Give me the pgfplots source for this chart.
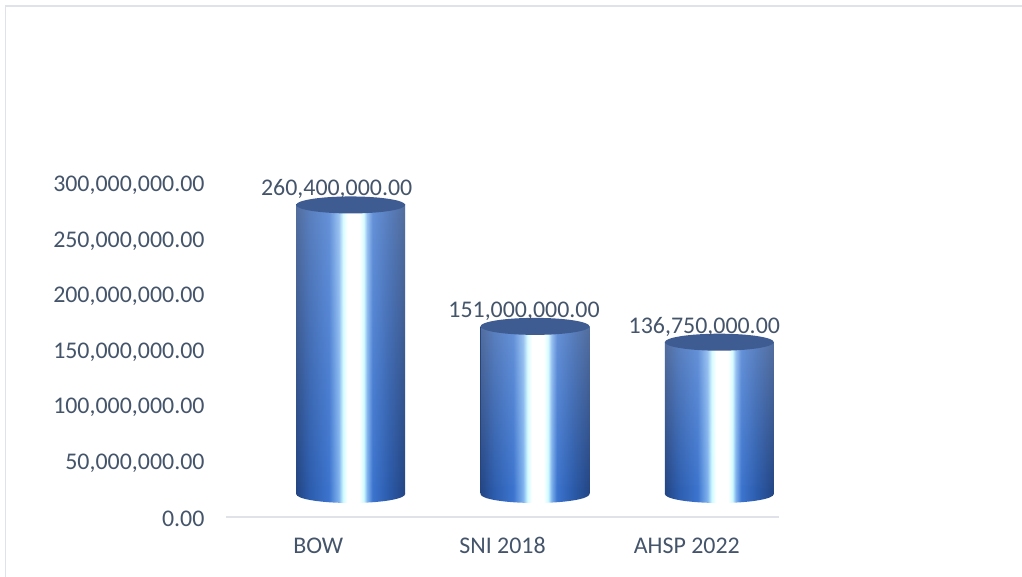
\documentclass[border=0pt]{standalone}
\usepackage{pgfplots}
\pgfplotsset{compat=1.18}
\usepackage{fontspec}
\setmainfont{Carlito}
\usetikzlibrary{fadings}
\definecolor{txt}{HTML}{44546A}
\definecolor{axln}{HTML}{DFE2E8}
\definecolor{captop}{HTML}{3F5C92}
\definecolor{c0}{HTML}{234583}
\definecolor{c1}{HTML}{2C5CAC}
\definecolor{c2}{HTML}{3C74CE}
\definecolor{cm}{HTML}{7FB2EE}
\definecolor{c3}{HTML}{CFFBFF}
\definecolor{c4}{HTML}{FFFFFF}
\pgfdeclarehorizontalshading{cyl}{100bp}{
 color(0bp)=(c0); color(25bp)=(c0); color(31bp)=(c1); color(40bp)=(c2); color(44.5bp)=(cm); color(46.5bp)=(c3);
 color(48.5bp)=(c4); color(54bp)=(c4); color(56bp)=(c3); color(57.5bp)=(cm); color(60bp)=(c2); color(67bp)=(c1); color(75bp)=(c0); color(100bp)=(c0)}
\tikzfading[name=topfade, top color=transparent!78, bottom color=transparent!100]
\pgfdeclareplotmark{topell}{\fill[captop,draw=none] (0pt,0pt) ellipse (54.5pt and 8.5pt);}
\pgfdeclareplotmark{botell}{\shade[shading=cyl,draw=none] (0pt,0pt) ellipse (54.5pt and 9pt);}
\pgfplotsset{
  body/.style={ybar,bar width=109pt,bar shift=0pt,draw=none,shading=cyl,xshift=32.5pt,yshift=23pt},
  glow/.style={ybar,bar width=109pt,bar shift=0pt,draw=none,fill=white,path fading=topfade,xshift=32.5pt,yshift=23pt},
  lab/.style={only marks,mark=topell,xshift=32.5pt,yshift=23pt,
    point meta=explicit symbolic,nodes near coords,
    every node near coord/.style={anchor=center,text=txt,font=\fontsize{23.9pt}{25pt}\selectfont,xshift=#1,yshift=15.5pt}},
}
\begin{document}
\begin{tikzpicture}[x=1pt,y=1pt]
\path[use as bounding box] (0,0) rectangle (1022,577);
\draw[axln,line width=1.8pt] (1022,571) -- (5.5,571) -- (5.5,0);
\begin{axis}[
  at={(226pt,60pt)}, anchor=south west, scale only axis,
  width=553pt, height=333pt,
  xmin=-0.5, xmax=2.5, ymin=0, ymax=300000000,
  clip=false,
  axis x line=bottom, axis y line=left,
  x axis line style={draw=axln,line width=2.2pt,-},
  y axis line style={draw=none},
  major tick length=0pt,
  xtick={0,1,2}, xticklabels={BOW,SNI 2018,AHSP 2022},
  ytick={0,50000000,100000000,150000000,200000000,250000000,300000000},
  yticklabels={0.00,{50,000,000.00},{100,000,000.00},{150,000,000.00},{200,000,000.00},{250,000,000.00},{300,000,000.00}},
  scaled y ticks=false,
  tick label style={text=txt,font=\fontsize{23.9pt}{25pt}\selectfont},
  y tick label style={xshift=-18pt,yshift=-1.5pt},
  x tick label style={yshift=-17pt},
]
\addplot[only marks,mark=botell,xshift=32.5pt,yshift=23pt] coordinates {(0,0) (1,0) (2,0)};
\addplot[body] coordinates {(0,260400000)};
\addplot[body] coordinates {(1,151000000)};
\addplot[body] coordinates {(2,136750000)};
\addplot[glow] coordinates {(0,260400000)};
\addplot[glow] coordinates {(1,151000000)};
\addplot[glow] coordinates {(2,136750000)};
\addplot[lab=-14pt] coordinates {(0,260400000)[260,400,000.00]};
\addplot[lab=-11pt] coordinates {(1,151000000)[151,000,000.00]};
\addplot[lab=-15pt] coordinates {(2,136750000)[136,750,000.00]};
\end{axis}
\end{tikzpicture}
\end{document}
